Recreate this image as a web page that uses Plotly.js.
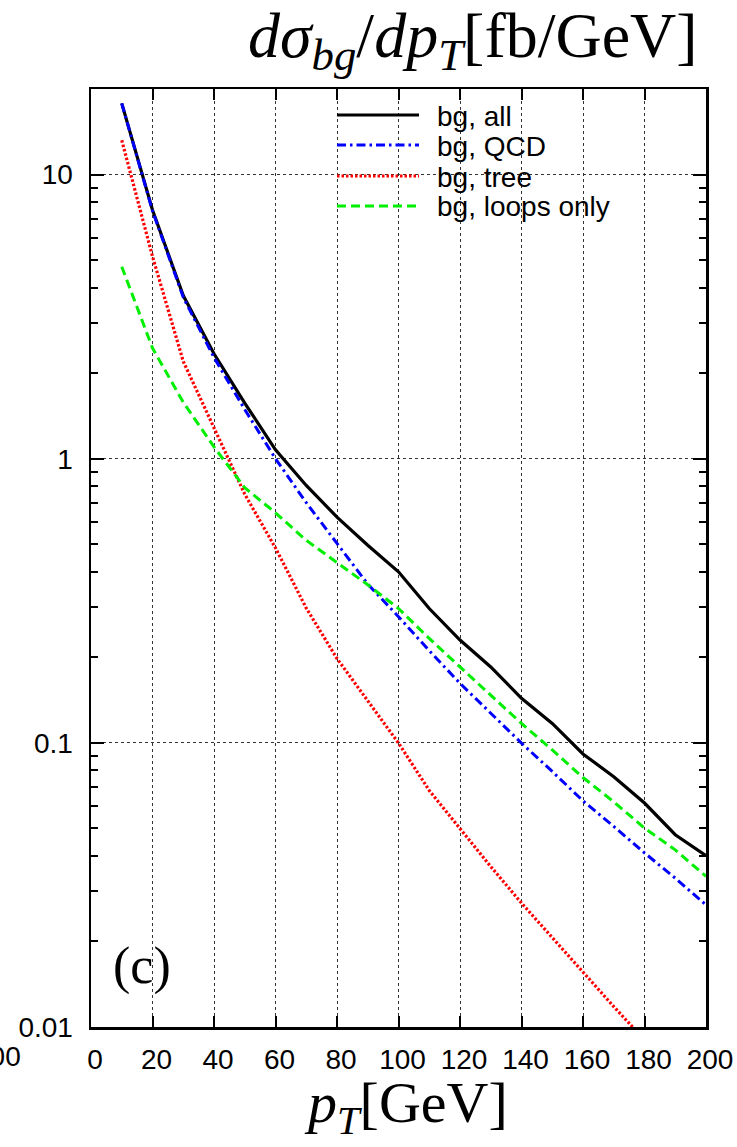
<!DOCTYPE html>
<html>
<head>
<meta charset="utf-8">
<script src="https://cdn.plot.ly/plotly-3.0.1.min.js"></script>
<style>html,body{margin:0;padding:0;background:#fff;}</style>
</head>
<body>
<div id="chart" style="width:737px;height:1147px;"></div>
<script>
// ---- data ----
const pT = [10,20,30,40,50,60,70,80,90,100,110,120,130,140,150,160,170,180,190,200];
const bgAll = [17.8,7.5,3.75,2.34,1.57,1.075,0.805,0.623,0.496,0.40,0.297,0.23,0.185,0.1435,0.117,0.0914,0.076,0.0614,0.0475,0.0401];
const bgQCD = [17.8,7.45,3.7,2.27,1.49,1.0,0.70,0.505,0.362,0.278,0.211,0.162,0.127,0.0998,0.0793,0.0625,0.0508,0.041,0.0334,0.0269];
const pTtree = [10,20,30,40,50,60,70,80,90,100,110,120,130,140,150,160,170,180];
const bgTree = [13.2,5.15,2.2,1.29,0.75,0.485,0.298,0.198,0.14,0.0998,0.068,0.050,0.0367,0.0273,0.0206,0.0155,0.0118,0.0090];
const bgLoops = [4.74,2.45,1.58,1.1,0.79,0.645,0.516,0.43,0.36,0.297,0.233,0.185,0.147,0.117,0.0944,0.0755,0.062,0.0501,0.042,0.0339];
const seriesNames = ["bg, all","bg, QCD","bg, tree","bg, loops only"];
const xTicks = [0,20,40,60,80,100,120,140,160,180,200];
const yTicks = [0.01,0.1,1,10];
const yTickText = ["0.01","0.1","1","10"];

const colors = ["#000000","#0000ff","#ff0000","#00ee00"];
const dashes = ["solid","9px,4px,2.5px,4px","2.5px,2px","9px,5px"];
const widths = [3.2,3,3.2,3];

const xs = [pT,pT,pTtree,pT];
const ys = [bgAll,bgQCD,bgTree,bgLoops];
const traces = ys.map((y,i)=>({
  x: xs[i], y: y, type:"scatter", mode:"lines", name: seriesNames[i],
  line:{color:colors[i], width:widths[i], dash:dashes[i]}, showlegend:false
}));

// minor ticks on log axis
const minorVals = [];
[0.01,0.1,1,10].forEach(d=>{ for(let k=2;k<=9;k++){ if(d*k<=20) minorVals.push(+(d*k).toPrecision(3)); } });
minorVals.push(20);

const L=91, R=706, T=89, B=1027;
const px = v => (v-L)/(R-L);
const py = v => (B-v)/(B-T);

const shapes = [{
  type:"rect", xref:"paper", yref:"paper", layer:"between",
  x0:px(312), x1:px(689), y0:py(223), y1:py(97),
  fillcolor:"#ffffff", line:{width:0}
}];
const annotations = [];
const rowY = [115,145,176,206];
seriesNames.forEach((n,i)=>{
  shapes.push({type:"line", xref:"paper", yref:"paper", layer:"above",
    x0:px(337), x1:px(419), y0:py(rowY[i]), y1:py(rowY[i]),
    line:{color:colors[i], width:widths[i], dash:dashes[i]}});
  annotations.push({xref:"paper", yref:"paper", x:px(435), y:py(rowY[i]+1),
    xanchor:"left", yanchor:"middle", showarrow:false, text:n,
    font:{family:"Liberation Sans, Arial, sans-serif", size:28, color:"#000"}});
});

// title
annotations.push({xref:"paper", yref:"paper", x:px(700), y:py(40), xanchor:"right", yanchor:"middle",
  showarrow:false,
  text:"<i>dσ</i><sub><i>bg</i></sub>/<i>dp</i><sub><i>T</i></sub>[fb/GeV]",
  font:{family:"Liberation Serif, Times New Roman, serif", size:64, color:"#000"}});
// x title
annotations.push({xref:"paper", yref:"paper", x:px(406), y:py(1106), xanchor:"center", yanchor:"middle",
  showarrow:false,
  text:"<i>p</i><sub><i>T</i></sub>[GeV]",
  font:{family:"Liberation Serif, Times New Roman, serif", size:58, color:"#000"}});
// panel label
annotations.push({xref:"paper", yref:"paper", x:px(142), y:py(966), xanchor:"center", yanchor:"middle",
  showarrow:false, text:"(c)",
  font:{family:"Liberation Serif, Times New Roman, serif", size:52, color:"#000"}});
// stray tick label at left edge
annotations.push({xref:"paper", yref:"paper", x:px(23), y:py(1056), xanchor:"right", yanchor:"middle",
  showarrow:false, text:"200",
  font:{family:"Liberation Sans, Arial, sans-serif", size:28, color:"#000"}});

const layout = {
  width:737, height:1147,
  margin:{l:L, r:737-R, t:T, b:1147-B, pad:0},
  paper_bgcolor:"#fff", plot_bgcolor:"#fff",
  showlegend:false,
  xaxis:{
    range:[0,200], tickvals:xTicks, ticktext:xTicks.map(String),
    ticks:"inside", ticklen:11, tickwidth:2, tickcolor:"#000",
    showline:true, linewidth:2.5, linecolor:"#000", mirror:"allticks",
    showgrid:true, gridcolor:"#333", griddash:"dot", gridwidth:1,
    zeroline:false,
    tickfont:{family:"Liberation Sans, Arial, sans-serif", size:28, color:"#000"},
    ticklabelstandoff:6, ticklabelshift:4
  },
  yaxis:{
    type:"log", range:[-2, Math.log10(20)],
    tickvals:yTicks, ticktext:yTickText,
    ticks:"inside", ticklen:13, tickwidth:2, tickcolor:"#000",
    showline:true, linewidth:2.5, linecolor:"#000", mirror:"allticks",
    showgrid:true, gridcolor:"#333", griddash:"dot", gridwidth:1,
    zeroline:false,
    minor:{tickvals:minorVals, ticks:"inside", ticklen:7, tickwidth:2, tickcolor:"#000", showgrid:false},
    tickfont:{family:"Liberation Sans, Arial, sans-serif", size:28, color:"#000"},
    ticklabelstandoff:10
  },
  shapes:shapes,
  annotations:annotations
};

Plotly.newPlot("chart", traces, layout, {displayModeBar:false, staticPlot:true});
</script>
</body>
</html>
